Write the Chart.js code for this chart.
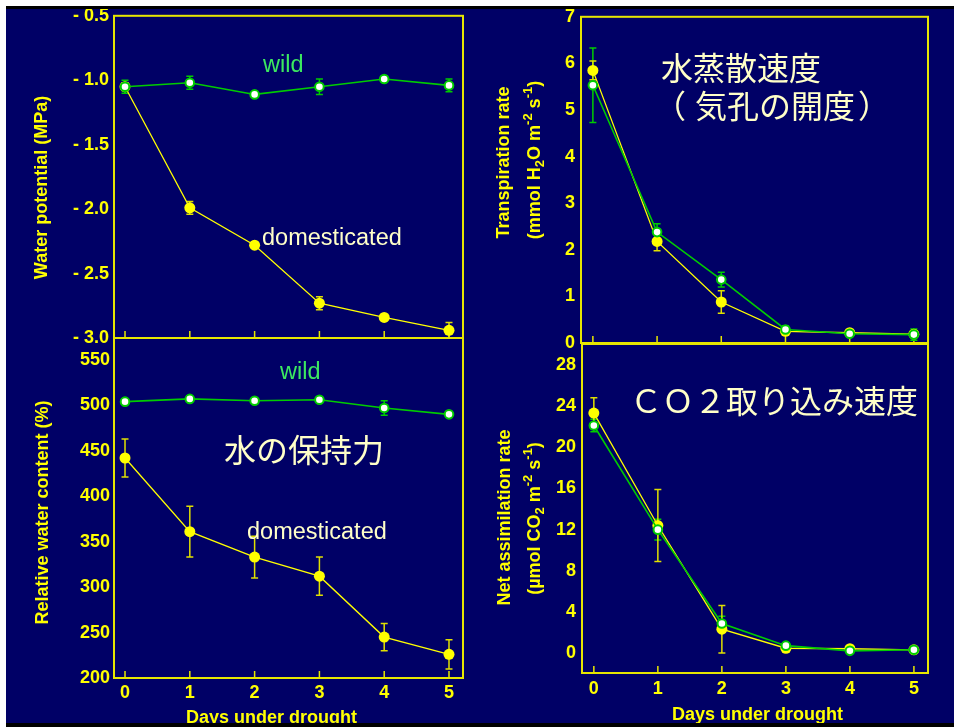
<!DOCTYPE html>
<html><head><meta charset="utf-8">
<script src="https://cdn.jsdelivr.net/npm/chart.js@4.4.1/dist/chart.umd.min.js"></script>
<style>
html,body{margin:0;padding:0;background:#fff;width:954px;height:727px;overflow:hidden;}
#edge{position:absolute;left:6px;top:6px;width:948px;height:721px;background:#000;}
#wrap{position:absolute;left:6px;top:9px;width:948px;height:714px;overflow:hidden;background:#000066;}
#wrap canvas{position:absolute;left:-6px;top:-9px;}
</style></head><body>
<div id="edge"></div>
<div id="wrap">
<canvas id="cTL" width="954" height="727"></canvas>
<canvas id="cBL" width="954" height="727"></canvas>
<canvas id="cTR" width="954" height="727"></canvas>
<canvas id="cBR" width="954" height="727"></canvas>
</div>
<script>
// ---------- data ----------
const days = [0, 1, 2, 3, 4, 5];
const xTicks = [0, 1, 2, 3, 4, 5];

// Water potential (MPa)
const wpWild = [-1.05, -1.02, -1.11, -1.05, -0.99, -1.04];
const wpWildErr = [0.05, 0.05, 0.02, 0.06, 0.02, 0.05];
const wpDom = [-1.05, -1.99, -2.28, -2.73, -2.84, -2.94];
const wpDomErr = [0.03, 0.05, 0.02, 0.05, 0.02, 0.06];
const wpTicks = [-3.0, -2.5, -2.0, -1.5, -1.0, -0.5];

// Transpiration rate (mmol H2O m-2 s-1)
const trWild = [5.53, 2.38, 1.36, 0.29, 0.2, 0.18];
const trWildErr = [0.8, 0.18, 0.16, 0.08, 0.05, 0.12];
const trDom = [5.85, 2.18, 0.88, 0.25, 0.22, 0.19];
const trDomErr = [0.2, 0.2, 0.24, 0.06, 0.05, 0.05];
const trTicks = [0, 1, 2, 3, 4, 5, 6, 7];

// Relative water content (%)
const rwcWild = [504, 507, 505, 506, 497, 490];
const rwcWildErr = [2, 2, 2, 3, 8, 2];
const rwcDom = [442, 361, 333, 312, 245, 226];
const rwcDomErr = [21, 28, 23, 21, 15, 16];
const rwcTicks = [200, 250, 300, 350, 400, 450, 500, 550];

// Net assimilation rate (umol CO2 m-2 s-1)
const naWild = [22.1, 12.0, 2.9, 0.75, 0.25, 0.35];
const naWildErr = [0.6, 1.0, 0.7, 0.2, 0.1, 0.1];
const naDom = [23.3, 12.4, 2.35, 0.5, 0.45, 0.35];
const naDomErr = [1.5, 3.5, 2.3, 0.2, 0.1, 0.1];
const naTicks = [0, 4, 8, 12, 16, 20, 24, 28];

// ---------- style ----------
const YEL = '#ffff00';
const GREEN = '#00cc00';
const FRAME = '#e6e600';
const CREAM = '#ffffc8';
const WILDTXT = '#3ce860';
const LAT = '"Liberation Sans", Arial, sans-serif';
const CJK = '"Noto Sans CJK JP", sans-serif';
const TICKFONT = { family: LAT, size: 18, weight: 'bold' };

function drawText(ctx, t) {
  ctx.save();
  ctx.translate(t.x, t.y);
  if (t.rot) ctx.rotate(t.rot);
  const segs = t.segs || [{ s: t.text }];
  ctx.textAlign = 'left';
  ctx.textBaseline = t.baseline || 'alphabetic';
  let total = 0;
  const w = segs.map(sg => { ctx.font = sg.small ? t.small : t.font; const m = ctx.measureText(sg.s).width; total += m; return m; });
  let cx = t.align === 'center' ? -total / 2 : 0;
  ctx.fillStyle = t.color;
  segs.forEach((sg, i) => { ctx.font = sg.small ? t.small : t.font; ctx.fillText(sg.s, cx, sg.dy || 0); cx += w[i]; });
  ctx.restore();
}

function panelPlugin(p) {
  return {
    id: 'panel' + p.id,
    beforeDatasetsDraw(chart) {
      const { ctx, chartArea: a } = chart;
      const x = chart.scales.x, y = chart.scales.y;
      ctx.save();
      ctx.strokeStyle = FRAME; ctx.lineWidth = 2;
      ctx.strokeRect(a.left, a.top, a.right - a.left, a.bottom - a.top);
      ctx.lineWidth = 1.5;
      ctx.beginPath();
      xTicks.forEach(v => { const px = x.getPixelForValue(v); ctx.moveTo(px, a.bottom); ctx.lineTo(px, a.bottom - 7); });
      ctx.stroke();
      chart.data.datasets.forEach(ds => {
        ctx.strokeStyle = ds.errColor; ctx.lineWidth = 1.5;
        ctx.beginPath();
        ds.data.forEach((pt, i) => {
          const e = ds.err[i]; if (!e) return;
          const px = x.getPixelForValue(pt.x);
          const y1 = y.getPixelForValue(pt.y + e), y2 = y.getPixelForValue(pt.y - e);
          ctx.moveTo(px, y1); ctx.lineTo(px, y2);
          ctx.moveTo(px - 3.5, y1); ctx.lineTo(px + 3.5, y1);
          ctx.moveTo(px - 3.5, y2); ctx.lineTo(px + 3.5, y2);
        });
        ctx.stroke();
      });
      ctx.restore();
    },
    afterDatasetsDraw(chart) {
      p.texts.forEach(t => drawText(chart.ctx, t));
    }
  };
}

function panel(p) {
  const datasets = [
    { label: 'wild', data: days.map((d, i) => ({ x: d, y: p.wild[i] })), err: p.wildErr, errColor: GREEN,
      borderColor: GREEN, borderWidth: 1.6, pointRadius: 4.3, pointBorderWidth: 2,
      pointBackgroundColor: '#ffffff', pointBorderColor: GREEN, tension: 0 },
    { label: 'domesticated', data: days.map((d, i) => ({ x: d, y: p.dom[i] })), err: p.domErr, errColor: '#e0e000',
      borderColor: YEL, borderWidth: 1.3, pointRadius: 5.5, pointBorderWidth: 0,
      pointBackgroundColor: YEL, pointBorderColor: YEL, tension: 0 }
  ];
  return new Chart(document.getElementById(p.id), {
    type: 'line',
    data: { datasets },
    options: {
      responsive: false, animation: false, devicePixelRatio: 1,
      layout: { padding: p.pad },
      plugins: { legend: { display: false }, tooltip: { enabled: false } },
      scales: {
        x: {
          type: 'linear', min: p.xmin, max: p.xmax,
          grid: { display: false, drawTicks: false }, border: { display: false },
          ticks: { display: p.xLabels, padding: p.xPad, font: TICKFONT, color: YEL, maxRotation: 0, callback: v => String(v) },
          afterBuildTicks: s => { s.ticks = xTicks.map(v => ({ value: v })); },
          afterFit: s => { s.height = 40; }
        },
        y: {
          type: 'linear', min: p.ymin, max: p.ymax,
          grid: { display: false, drawTicks: false }, border: { display: false },
          ticks: { padding: p.yPad, font: TICKFONT, color: YEL, callback: p.fmt },
          afterBuildTicks: s => { s.ticks = p.yTicks.map(v => ({ value: v })); },
          afterFit: s => { s.width = p.yWidth; }
        }
      }
    },
    plugins: [panelPlugin(p)]
  });
}

const titleFont = 'bold 18px ' + LAT;
const smallFont = 'bold 13px ' + LAT;
const annFont = '23.5px ' + LAT;
const jpFont = '32px ' + CJK;

// Top-left: water potential
panel({
  id: 'cTL', wild: wpWild, wildErr: wpWildErr, dom: wpDom, domErr: wpDomErr,
  yTicks: wpTicks, ymin: -3.0, ymax: -0.5, xmin: -0.17, xmax: 5.216,
  pad: { left: 0, top: 15, right: 491, bottom: 349 }, yWidth: 114, yPad: 5, xLabels: false, xPad: 4,
  fmt: v => (v < 0 ? '- ' : '') + Math.abs(v).toFixed(1),
  texts: [
    { text: 'Water potential (MPa)', x: 42, y: 187.5, rot: -Math.PI / 2, align: 'center', baseline: 'middle', font: titleFont, color: YEL },
    { text: 'wild', x: 263, y: 72, font: annFont, color: WILDTXT },
    { text: 'domesticated', x: 262, y: 245, font: annFont, color: CREAM }
  ]
});

// Bottom-left: relative water content
panel({
  id: 'cBL', wild: rwcWild, wildErr: rwcWildErr, dom: rwcDom, domErr: rwcDomErr,
  yTicks: rwcTicks, ymin: 200, ymax: 574, xmin: -0.17, xmax: 5.216,
  pad: { left: 0, top: 338, right: 491, bottom: 9 }, yWidth: 114, yPad: 4, xLabels: true, xPad: 4,
  fmt: v => String(v),
  texts: [
    { text: 'Relative water content (%)', x: 43.5, y: 512.5, rot: -Math.PI / 2, align: 'center', baseline: 'middle', font: titleFont, color: YEL },
    { text: 'wild', x: 280, y: 379, font: annFont, color: WILDTXT },
    { text: '水の保持力', x: 224, y: 462, font: jpFont, color: CREAM },
    { text: 'domesticated', x: 247, y: 539, font: annFont, color: CREAM },
    { text: 'Days under drought', x: 271.5, y: 718.5, align: 'center', baseline: 'middle', font: titleFont, color: YEL }
  ]
});

// Top-right: transpiration rate
panel({
  id: 'cTR', wild: trWild, wildErr: trWildErr, dom: trDom, domErr: trDomErr,
  yTicks: trTicks, ymin: 0, ymax: 7, xmin: -0.185, xmax: 5.22,
  pad: { left: 0, top: 13, right: 26, bottom: 344 }, yWidth: 581, yPad: 6, xLabels: false, xPad: 4,
  fmt: v => String(v),
  texts: [
    { text: 'Transpiration rate', x: 504, y: 162.5, rot: -Math.PI / 2, align: 'center', baseline: 'middle', font: titleFont, color: YEL },
    { x: 535.5, y: 160, rot: -Math.PI / 2, align: 'center', baseline: 'middle', font: titleFont, small: smallFont, color: YEL,
      segs: [{ s: '(mmol H' }, { s: '2', small: true, dy: 5 }, { s: 'O m' }, { s: '-2', small: true, dy: -7 }, { s: ' s' }, { s: '-1', small: true, dy: -7 }, { s: ')' }] },
    { text: '水蒸散速度', x: 661, y: 79.5, font: jpFont, color: CREAM },
    { text: '（', x: 654, y: 118, font: jpFont, color: CREAM },
    { text: '気孔の開度', x: 695, y: 118, font: jpFont, color: CREAM },
    { text: '）', x: 858, y: 118, font: jpFont, color: CREAM }
  ]
});

// Bottom-right: net assimilation rate
panel({
  id: 'cBR', wild: naWild, wildErr: naWildErr, dom: naDom, domErr: naDomErr,
  yTicks: naTicks, ymin: -1.9, ymax: 30, xmin: -0.185, xmax: 5.22,
  pad: { left: 0, top: 344, right: 26, bottom: 14 }, yWidth: 582, yPad: 6, xLabels: true, xPad: 5,
  fmt: v => String(v),
  texts: [
    { text: 'Net assimilation rate', x: 505, y: 517.5, rot: -Math.PI / 2, align: 'center', baseline: 'middle', font: titleFont, color: YEL },
    { x: 535.5, y: 518.5, rot: -Math.PI / 2, align: 'center', baseline: 'middle', font: titleFont, small: smallFont, color: YEL,
      segs: [{ s: '(µmol CO' }, { s: '2', small: true, dy: 5 }, { s: ' m' }, { s: '-2', small: true, dy: -7 }, { s: ' s' }, { s: '-1', small: true, dy: -7 }, { s: ')' }] },
    { text: 'ＣＯ２取り込み速度', x: 630, y: 413, font: jpFont, color: CREAM },
    { text: 'Days under drought', x: 757.5, y: 715.5, align: 'center', baseline: 'middle', font: titleFont, color: YEL }
  ]
});
</script>
</body></html>
